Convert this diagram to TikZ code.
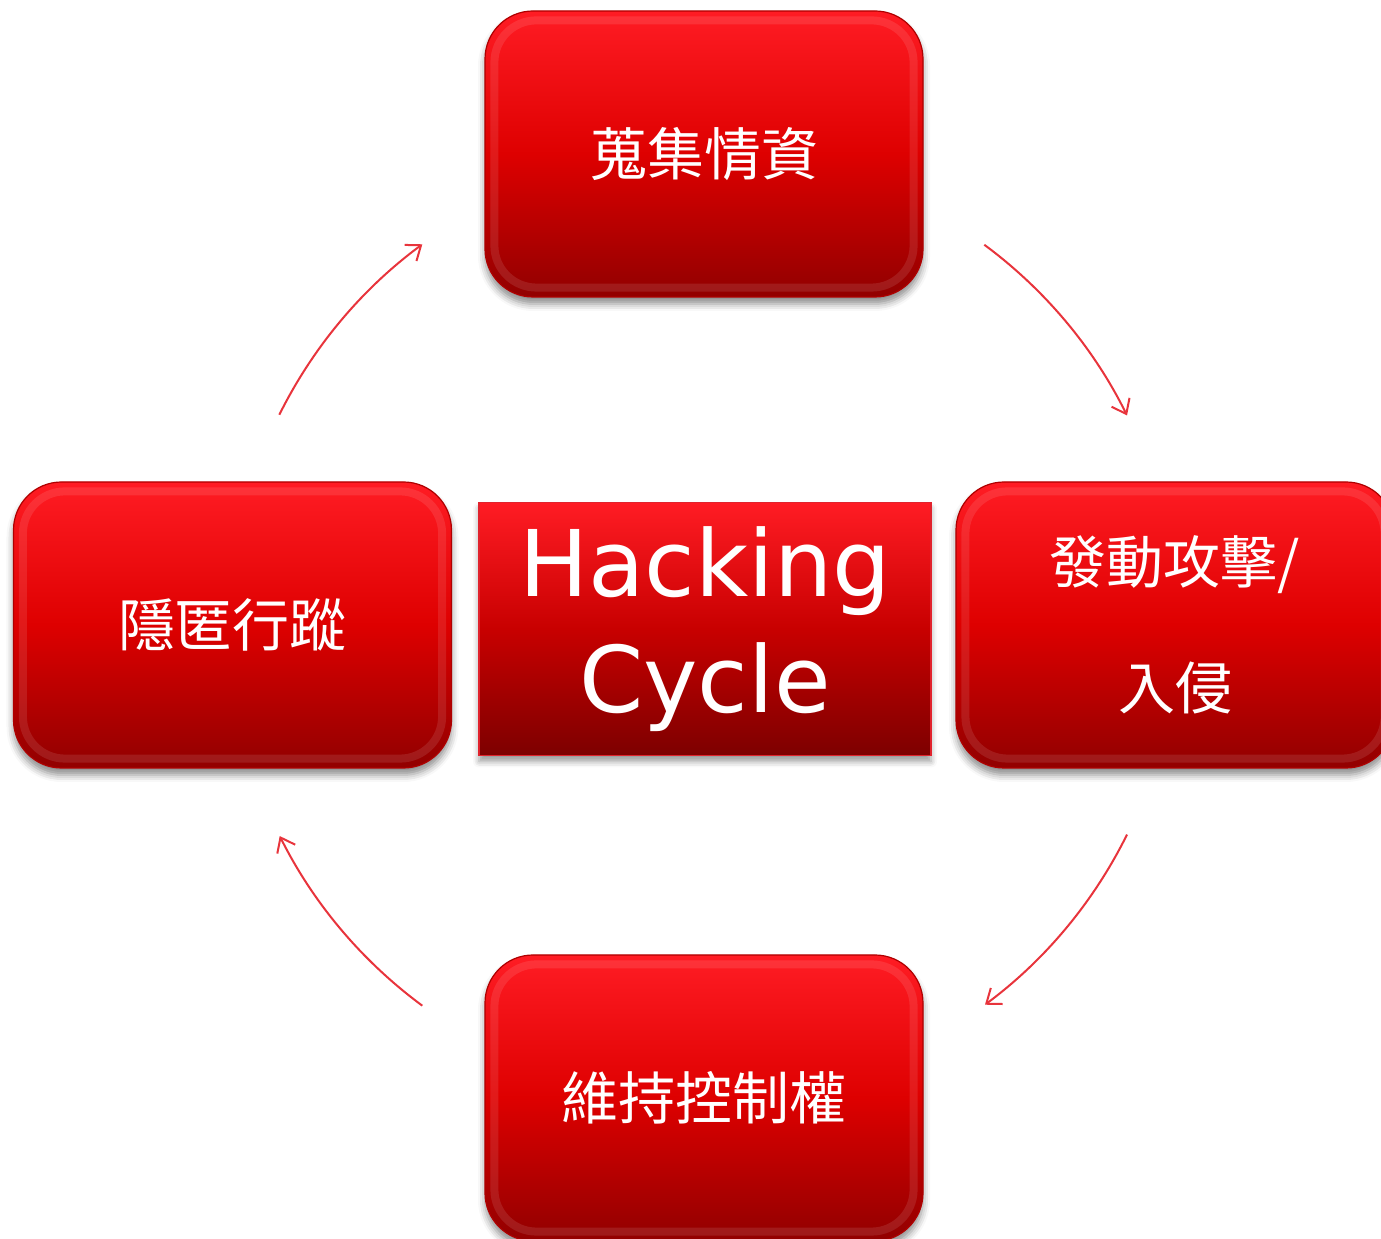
\documentclass[tikz,border=0pt]{standalone}
\usepackage{fontspec}
\setmainfont{DejaVu Sans}
\newfontfamily\cjk{Noto Sans CJK TC}
\usetikzlibrary{arrows.meta,shadows.blur,calc}
\definecolor{rtop}{RGB}{255,28,36}
\definecolor{rmid}{RGB}{222,0,0}
\definecolor{rbot}{RGB}{145,0,0}
\definecolor{cbot}{RGB}{125,0,0}
\definecolor{cmid}{RGB}{200,0,0}
\definecolor{rline}{RGB}{175,0,0}
\definecolor{cline}{RGB}{225,35,45}
\definecolor{arrowred}{RGB}{232,52,60}
\tikzset{
  stepbox/.style={rounded corners=48pt, top color=rtop, bottom color=rbot, middle color=rmid,
    draw=rline, line width=1.2pt, minimum width=438pt, minimum height=286pt, inner sep=0pt,
    text=white, font=\cjk\fontsize{57}{126}\selectfont, align=center,
    blur shadow={shadow xshift=0pt, shadow yshift=-7pt, shadow blur radius=7pt, shadow opacity=45}},
  bevel/.style={rounded corners=42pt, draw=white, draw opacity=0.1, line width=8pt},
  centerbox/.style={top color=rtop, bottom color=cbot, middle color=cmid,
    draw=cline, line width=1.2pt,
    minimum width=452pt, minimum height=253pt, inner sep=0pt, text=white,
    font=\fontsize{92}{116}\selectfont, align=center,
    blur shadow={shadow xshift=0pt, shadow yshift=-6pt, shadow blur radius=6pt, shadow opacity=40}},
  cyclearrow/.style={draw=arrowred, line width=2pt, -{Straight Barb[length=13pt,width=20pt,line width=2pt]}}
}
\begin{document}
\begin{tikzpicture}[x=1pt,y=1pt]
\useasboundingbox (0,0) rectangle (1381,1239);
% boxes
\node[stepbox] (gather) at (704,1085) {蒐集情資};
\node[stepbox] (attack) at (1175,614) {發動攻擊/\\入侵};
\node[stepbox] (hide) at (232.5,614) {隱匿行蹤};
\node[stepbox] (keep) at (704,141) {維持控制權};
\foreach \n in {gather,attack,hide,keep}{
  \draw[bevel] ($(\n.south west)+(10pt,10pt)$) rectangle ($(\n.north east)-(10pt,10pt)$);
}
\node[centerbox] (center) at (705,610) {Hacking\\Cycle};
% arrows
\coordinate (c) at (703,614);
\coordinate (a1) at ($(c)+(53.5:473pt)$);
\coordinate (a2) at ($(c)+(-26.3:473pt)$);
\coordinate (a3) at ($(c)+(233.6:473pt)$);
\coordinate (a4) at ($(c)+(153.6:473pt)$);
\draw[cyclearrow] (a1) arc[start angle=53.5, end angle=26.3, radius=473pt];
\draw[cyclearrow] (a2) arc[start angle=-26.3, end angle=-53.4, radius=473pt];
\draw[cyclearrow] (a3) arc[start angle=233.6, end angle=206.5, radius=473pt];
\draw[cyclearrow] (a4) arc[start angle=153.6, end angle=126.4, radius=473pt];
\end{tikzpicture}
\end{document}
